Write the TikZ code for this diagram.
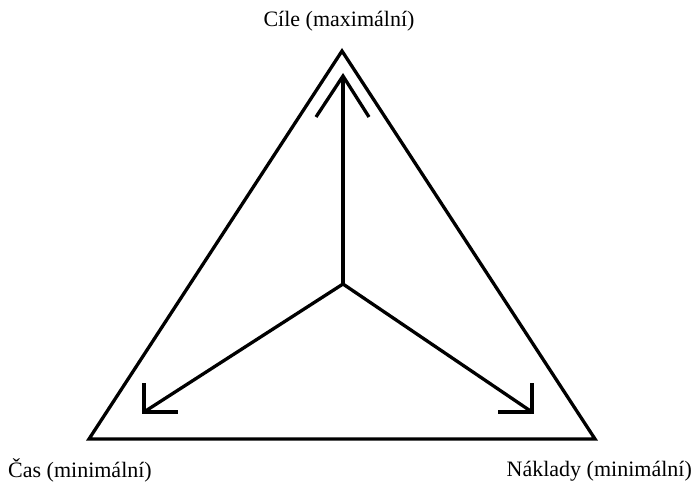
\documentclass[tikz,border=0pt]{standalone}
\usepackage{fontspec}
\setmainfont{Liberation Serif}
\begin{document}
\begin{tikzpicture}[x=1pt,y=-1pt,
  edge/.style={line width=3.3pt,line join=miter,line cap=butt},
  lbl/.style={inner sep=0pt,font=\fontsize{22}{25}\selectfont}]
\useasboundingbox[fill=white] (0,0) rectangle (694,487);
% triangle corners
\coordinate (top) at (342,51);
\coordinate (bl) at (89,439);
\coordinate (br) at (595,439);
\coordinate (c) at (343,284);
\draw[edge] (top) -- (bl) -- (br) -- cycle;
% arrows from centre
\coordinate (tu) at (343,76);
\coordinate (tl) at (144,412);
\coordinate (tr) at (532,412);
\draw[edge] (c) -- (tu);
\draw[edge] (c) -- (tl);
\draw[edge] (c) -- (tr);
% arrow heads
\draw[edge] (316,117) -- (tu) -- (369,117);
\draw[edge] (144,383) -- (tl) -- (178,412);
\draw[edge] (532,383) -- (tr) -- (498,412);
% labels
\node[lbl,anchor=base] (cile) at (339,27) {Cíle (maximální)};
\node[lbl,anchor=base west] (cas) at (8,477) {Čas (minimální)};
\node[lbl,anchor=base east] (naklady) at (692,476) {Náklady (minimální)};
\end{tikzpicture}
\end{document}
